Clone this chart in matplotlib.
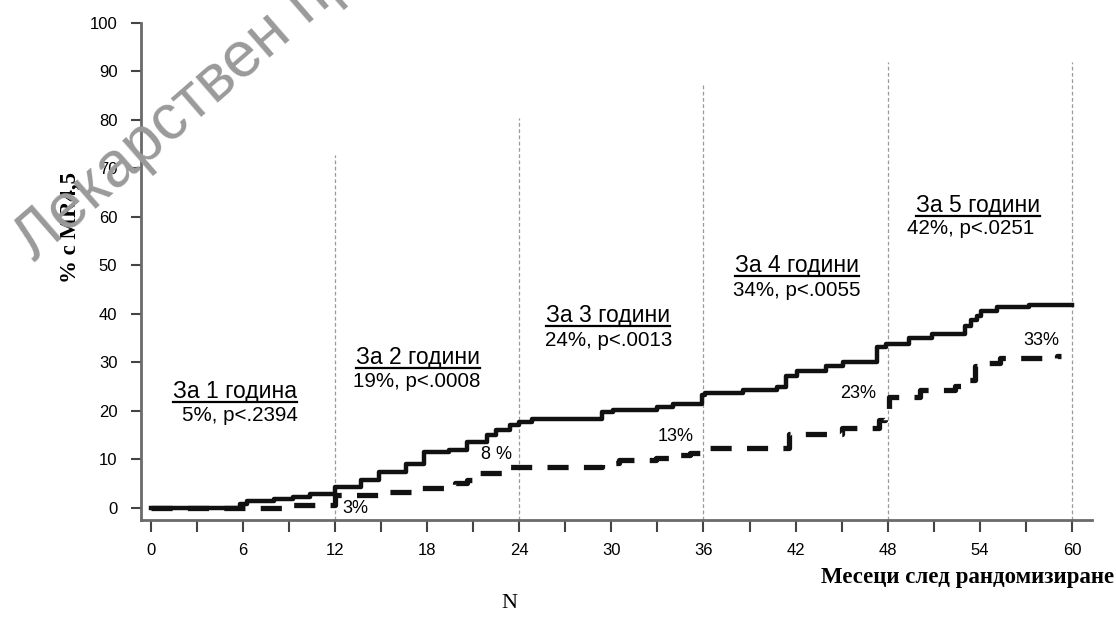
import matplotlib.pyplot as plt
from matplotlib.lines import Line2D
from matplotlib.ticker import MultipleLocator

# solid curve (step starts, months / %)
solid_x = [0, 5.8, 6.3, 8.0, 9.3, 10.4, 12.0, 13.7, 14.9, 16.6, 17.8, 19.4, 20.6, 21.9, 22.5,
           23.4, 24.0, 24.8, 29.4, 30.1, 33.0, 34.0, 35.9, 36.1, 38.6, 40.8, 41.4, 42.1, 44.0,
           45.1, 47.3, 47.9, 49.4, 50.9, 53.0, 53.4, 53.8, 54.1, 55.1, 57.2, 60.0]
solid_y = [0, 0.8, 1.5, 1.9, 2.3, 2.9, 4.3, 5.8, 7.3, 9.1, 11.6, 12.0, 13.5, 15.0, 16.1,
           17.1, 17.8, 18.4, 19.8, 20.2, 20.7, 21.4, 23.3, 23.6, 24.2, 25.0, 27.1, 28.3, 29.3,
           30.1, 33.2, 33.8, 35.0, 35.9, 37.5, 38.7, 39.6, 40.5, 41.5, 41.8, 41.8]

# dashed curve
dash_x = [0, 9.2, 12.0, 15.1, 17.4, 19.8, 20.6, 21.4, 23.3, 29.4, 30.5, 32.9, 34.2, 35.1,
          36.0, 41.6, 45.0, 47.4, 47.8, 48.1, 50.1, 52.4, 52.9, 53.7, 54.5, 55.3, 59.0, 59.3]
dash_y = [0, 0.6, 2.7, 3.2, 4.1, 5.2, 5.8, 7.1, 8.5, 9.3, 9.8, 10.2, 10.8, 11.3,
          12.4, 15.3, 16.5, 18.1, 20.2, 22.8, 24.3, 25.1, 26.4, 29.3, 29.8, 30.8, 31.2, 31.2]

# year markers
year_x = [12, 24, 36, 48, 60]
year_top = [72.7, 80.4, 87.2, 92.0, 92.0]

headers = ['За 1 година', 'За 2 години', 'За 3 години', 'За 4 години', 'За 5 години']
header_pos = [(5.49, 23.9), (17.4, 30.9), (29.8, 39.6), (42.1, 49.9), (53.9, 62.4)]
stats = ['5%, p<.2394', '19%, p<.0008', '24%, p<.0013', '34%, p<.0055', '42%, p<.0251']
stats_pos = [(5.83, 19.0), (17.3, 26.0), (29.8, 34.6), (42.1, 44.9), (53.4, 57.5)]

pct_labels = ['3%', '8 %', '13%', '23%', '33%']
pct_pos = [(13.3, -0.2), (22.5, 10.9), (34.2, 14.8), (46.1, 23.5), (58.0, 34.6)]

fig = plt.figure(figsize=(11.16, 6.19), dpi=100)
ax = fig.add_axes([141 / 1116, 99 / 619, 951 / 1116, 497.3 / 619])
ax.set_xlim(-0.63, 61.3)
ax.set_ylim(-2.5, 100)

for xv, top in zip(year_x, year_top):
    ax.plot([xv, xv], [-2.5, top], color='#9a9a9a', lw=0.9, linestyle=(0, (3, 2)), zorder=1)

ax.step(dash_x, dash_y, where='post', color='#111111', lw=3.8,
        linestyle=(0, (4.0, 2.9)), zorder=3)
ax.step(solid_x, solid_y, where='post', color='#111111', lw=3.2, zorder=4)

for s in ['top', 'right']:
    ax.spines[s].set_visible(False)
for s in ['left', 'bottom']:
    ax.spines[s].set_color('#6a6a6a')
    ax.spines[s].set_linewidth(2)

ax.xaxis.set_major_locator(MultipleLocator(6))
ax.xaxis.set_minor_locator(MultipleLocator(3))
ax.yaxis.set_major_locator(MultipleLocator(10))
ax.set_xticks(range(0, 61, 6))
ax.set_yticks(range(0, 101, 10))
ax.tick_params(axis='x', which='both', direction='out', length=8.5, width=1.5,
               color='#444444', pad=8)
ax.tick_params(axis='y', direction='out', length=7, width=1.5, color='#444444', pad=10)
for lab in ax.get_xticklabels() + ax.get_yticklabels():
    lab.set_family('Liberation Sans')
    lab.set_fontsize(12)

hdr_texts = []
for txt, (hx, hy) in zip(headers, header_pos):
    hdr_texts.append(ax.text(hx, hy, txt, ha='center', va='center', fontsize=16.5,
                             family='Liberation Sans'))
for txt, (sx, sy) in zip(stats, stats_pos):
    ax.text(sx, sy, txt, ha='center', va='center', fontsize=14.8, family='Liberation Sans')
for txt, (px, py) in zip(pct_labels, pct_pos):
    ax.text(px, py, txt, ha='center', va='center', fontsize=13, family='Liberation Sans')

fig.text(70 / 1116, 1 - 227 / 619, '% с MR4,5', rotation=90, ha='center', va='center',
         fontsize=16.5, fontweight='bold', family='Liberation Serif')
fig.text(0.998, 1 - 577 / 619, 'Месеци след рандомизиране', ha='right', va='center',
         fontsize=16.5, fontweight='bold', family='Liberation Serif')
fig.text(509 / 1116, 1 - 604 / 619, 'N', ha='center', va='center', fontsize=16,
         family='Liberation Serif')

# watermark
fig.text(34 / 1116, 1 - 262 / 619, 'Лекарствен пр',
         rotation=41, rotation_mode='anchor', ha='left', va='baseline', fontsize=46,
         color='#9a9a9a', family='Liberation Sans', zorder=10)

# underline headers
fig.canvas.draw()
renderer = fig.canvas.get_renderer()
inv = fig.transFigure.inverted()
for t in hdr_texts:
    bb = t.get_window_extent(renderer)
    (x0, y0), (x1, _) = inv.transform([(bb.x0, bb.y0 + 1), (bb.x1, bb.y0 + 1)])
    fig.add_artist(Line2D([x0, x1], [y0, y0], transform=fig.transFigure,
                          color='black', lw=1.6))

fig.savefig('out.png', dpi=100)
